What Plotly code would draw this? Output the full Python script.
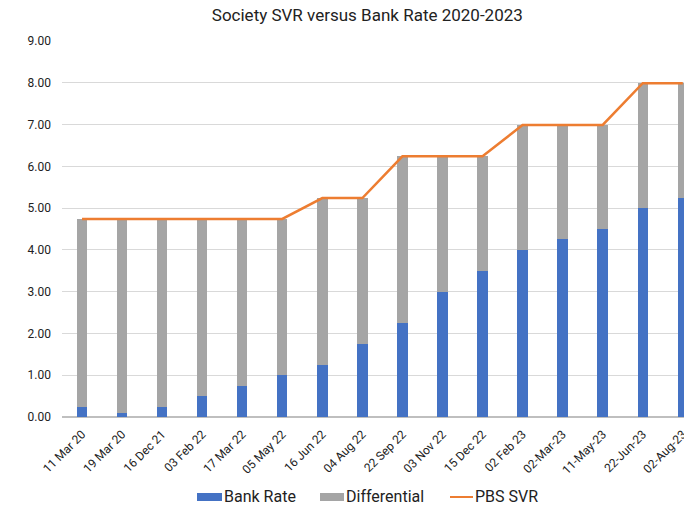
import plotly.graph_objects as go

categories = ["11 Mar 20", "19 Mar 20", "16 Dec 21", "03 Feb 22", "17 Mar 22", "05 May 22",
              "16 Jun 22", "04 Aug 22", "22 Sep 22", "03 Nov 22", "15 Dec 22", "02 Feb 23",
              "02-Mar-23", "11-May-23", "22-Jun-23", "02-Aug-23"]
bank_rate = [0.25, 0.10, 0.25, 0.50, 0.75, 1.00, 1.25, 1.75, 2.25, 3.00, 3.50, 4.00, 4.25, 4.50, 5.00, 5.25]
pbs_svr = [4.74, 4.74, 4.74, 4.74, 4.74, 4.74, 5.24, 5.24, 6.24, 6.24, 6.24, 6.99, 6.99, 6.99, 7.99, 7.99]
differential = [round(s - b, 2) for s, b in zip(pbs_svr, bank_rate)]
y_ticks = [0, 1, 2, 3, 4, 5, 6, 7, 8, 9]

FONT = "Roboto"
TXT = "#222222"
C_BANK, C_DIFF, C_SVR = "#4472C4", "#A5A5A5", "#ED7D31"
W, H = 684, 505
ML, MR, MT, MB = 62, 0, 41, 88
PW, PH = W - ML - MR, H - MT - MB

fig = go.Figure()
fig.add_trace(go.Bar(x=categories, y=bank_rate, name="Bank Rate", marker_color=C_BANK,
                     marker_line_width=0))
fig.add_trace(go.Bar(x=categories, y=differential, name="Differential", marker_color=C_DIFF,
                     marker_line_width=0))
fig.add_trace(go.Scatter(x=categories, y=pbs_svr, name="PBS SVR", mode="lines",
                         line=dict(color=C_SVR, width=2.5)))

# custom legend: pixel positions converted to paper (plot-area) coordinates
def px(x):
    return (x - ML) / PW

def py(y):
    return (H - MB - y) / PH

legend_items = [
    ("Bank Rate", C_BANK, "rect", 197, 222),
    ("Differential", C_DIFF, "rect", 320, 344),
    ("PBS SVR", C_SVR, "line", 450, 473),
]
shapes = []
annotations = []
ly = 497
for name, col, kind, x0, x1 in legend_items:
    if kind == "rect":
        shapes.append(dict(type="rect", xref="paper", yref="paper", x0=px(x0), x1=px(x1),
                           y0=py(ly + 4), y1=py(ly - 4), fillcolor=col, line_width=0))
    else:
        shapes.append(dict(type="line", xref="paper", yref="paper", x0=px(x0), x1=px(x1),
                           y0=py(ly), y1=py(ly), line=dict(color=col, width=2)))
    annotations.append(dict(text=name, xref="paper", yref="paper", x=px(x1 + 1), y=py(ly - 1),
                            xanchor="left", yanchor="middle", showarrow=False, borderpad=0,
                            font=dict(size=16, color=TXT, family=FONT)))

fig.update_layout(
    width=W, height=H,
    barmode="stack", bargap=0.74,
    plot_bgcolor="white", paper_bgcolor="white",
    margin=dict(l=ML, r=MR, t=MT, b=MB),
    font=dict(family=FONT, color=TXT),
    title=dict(text="Society SVR versus Bank Rate 2020-2023", x=0.537, xanchor="center",
               y=1 - 15 / H, yanchor="middle", font=dict(size=17, color=TXT, family=FONT)),
    showlegend=False,
    shapes=shapes,
    annotations=annotations,
    xaxis=dict(range=[-0.5, 15.03], tickangle=-45, tickfont=dict(size=12, color=TXT),
               showgrid=False, showline=False, ticks="", automargin=False,
               ticklabelstandoff=7),
    yaxis=dict(range=[0, 9], tickvals=y_ticks, ticktext=[f"{v:.2f}" for v in y_ticks],
               tickfont=dict(size=12, color=TXT), gridcolor="#D9D9D9", gridwidth=1,
               zeroline=True, zerolinecolor="#BFBFBF", zerolinewidth=1.5,
               showline=False, ticks="", ticklen=0, automargin=False,
               ticklabelstandoff=10),
)

fig.write_html("out.html")
